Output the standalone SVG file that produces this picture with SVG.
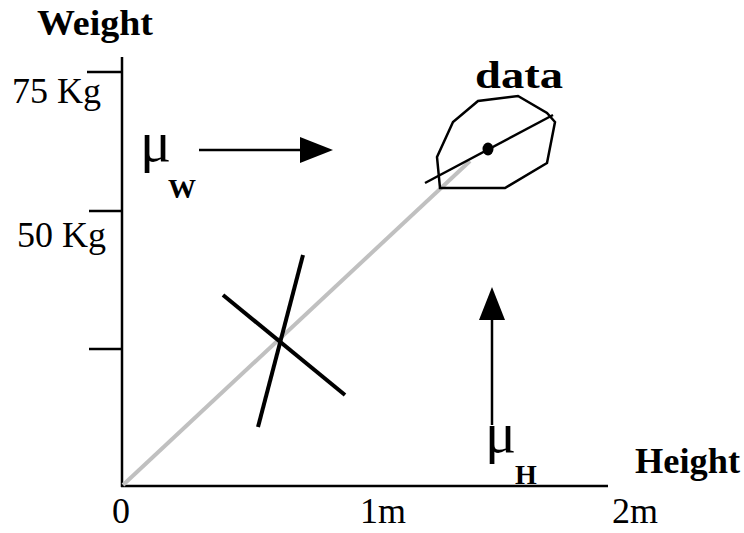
<svg xmlns="http://www.w3.org/2000/svg" width="744" height="533" viewBox="0 0 744 533">
<style>
.ax{stroke:#000;stroke-width:2.5;fill:none}
.thick{stroke:#000;stroke-width:4;fill:none;stroke-linecap:butt}
.reg{font-family:"Liberation Serif","Times New Roman",serif;font-size:36px;fill:#000}
.bold{font-family:"Liberation Serif","Times New Roman",serif;font-weight:bold;fill:#000}
.mu{font-family:"Liberation Serif","Times New Roman",serif;font-size:58px;fill:#000}
</style>
<rect width="744" height="533" fill="#fff"/>
<g id="axes">
<line class="ax" x1="122" y1="57" x2="122" y2="487"/>
<line class="ax" x1="121" y1="486" x2="608" y2="486"/>
<line class="ax" x1="87" y1="72" x2="122" y2="72"/>
<line class="ax" x1="89" y1="211" x2="122" y2="211"/>
<line class="ax" x1="89" y1="349" x2="122" y2="349"/>
</g>
<g id="axis-labels">
<text class="bold" x="37" y="35" font-size="35" textLength="116" lengthAdjust="spacingAndGlyphs">Weight</text>
<text class="reg" x="12" y="103">75 Kg</text>
<text class="reg" x="17" y="247">50 Kg</text>
<text class="reg" x="112" y="523">0</text>
<text class="reg" x="360" y="523">1m</text>
<text class="reg" x="612" y="523">2m</text>
<text class="bold" x="635" y="473" font-size="35" textLength="105" lengthAdjust="spacingAndGlyphs">Height</text>
</g>
<g id="connectors">
<line x1="123" y1="485" x2="470" y2="161" stroke="#c0c0c0" stroke-width="4"/>
<line class="thick" x1="223" y1="295" x2="345" y2="395"/>
<line class="thick" x1="303" y1="255" x2="258" y2="427"/>
<line x1="199" y1="150" x2="302" y2="150" stroke="#000" stroke-width="2.5"/>
<polygon points="300,137 333,150 300,163" fill="#000"/>
<line x1="492" y1="425" x2="492" y2="318" stroke="#000" stroke-width="2.5"/>
<polygon points="479,320 492,287 505,320" fill="#000"/>
</g>
<g id="data">
<polygon points="437,157 453,122 478,101 518,96 547,113 555,122 547,163 505,188 440,188" fill="none" stroke="#000" stroke-width="2.5"/>
<line x1="425" y1="183" x2="553" y2="115" stroke="#000" stroke-width="2.5"/>
<ellipse cx="488" cy="149" rx="5.5" ry="6.5" fill="#000"/>
<text class="bold" x="475" y="88" font-size="37" textLength="88" lengthAdjust="spacingAndGlyphs">data</text>
</g>
<g id="mu-w">
<text class="mu" x="140" y="161">μ</text>
<text class="bold" x="168" y="198" font-size="28">W</text>
</g>
<g id="mu-h">
<text class="mu" x="485" y="452">μ</text>
<text class="bold" x="515" y="484" font-size="28">H</text>
</g>
</svg>
